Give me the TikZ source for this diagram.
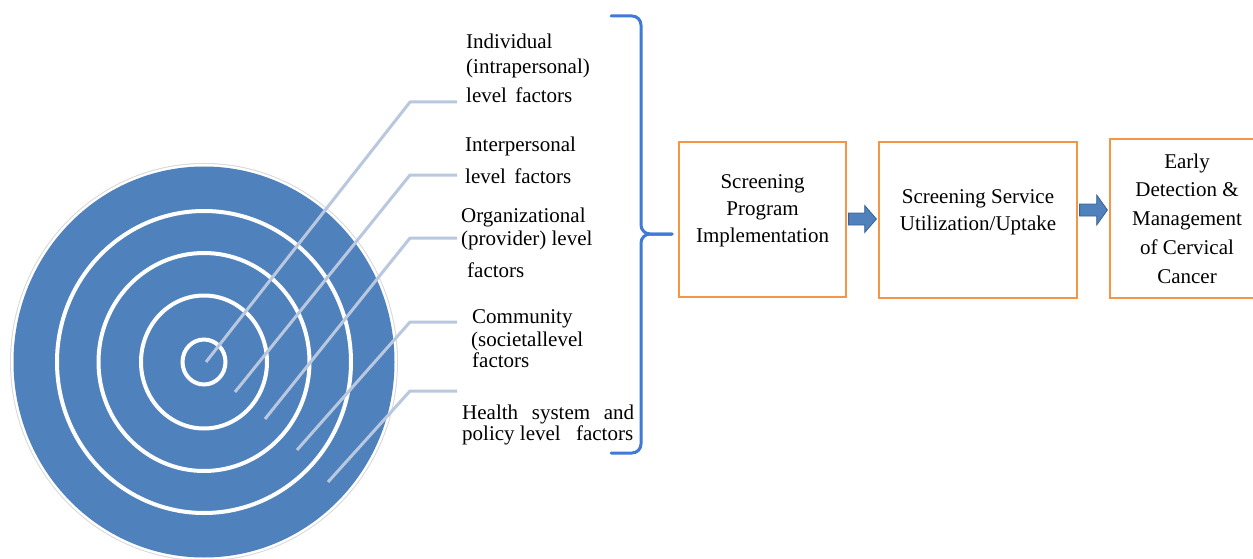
\documentclass[tikz,border=0pt]{standalone}
\usepackage{fontspec}
\setmainfont{Liberation Serif}
\usetikzlibrary{calc}
\definecolor{tblue}{RGB}{79,129,189}
\definecolor{leader}{RGB}{185,200,222}
\definecolor{bracec}{RGB}{62,122,214}
\definecolor{boxor}{RGB}{245,150,70}
\definecolor{arrowline}{RGB}{58,98,150}
\tikzset{
  ring/.style={draw=white, line width=4pt},
  leaderline/.style={draw=leader, line width=3pt, line join=round},
  lbl/.style={anchor=base west, inner sep=0pt, font=\fontsize{21}{25}\selectfont},
  stagebox/.style={draw=boxor, line width=2.6pt, rectangle, inner sep=0pt},
  boxtext/.style={anchor=base, inner sep=0pt, font=\fontsize{21}{27.5}\selectfont},
  blockarrow/.style={fill=tblue, draw=arrowline, line width=0.8pt, line join=miter},
  bracepath/.style={draw=bracec, line width=3pt, line cap=round, rounded corners=9pt},
}
\begin{document}
\begin{tikzpicture}[x=1pt,y=-1pt]
\useasboundingbox (0,0) rectangle (1253,559);
\clip (0,0) rectangle (1253,559);
\fill[white] (0,0) rectangle (1253,559);

% target
\fill[gray!30] (204,362) ellipse [x radius=194, y radius=199];
\fill[white] (204,362) ellipse [x radius=193, y radius=198];
\fill[tblue] (204,362) ellipse [x radius=190.5, y radius=195.5];
\draw[ring] (204,362) ellipse [x radius=147, y radius=151];
\draw[ring] (204,362) ellipse [x radius=105.5, y radius=109];
\draw[ring] (204,362) ellipse [x radius=63, y radius=66.5];
\draw[ring] (204,362) ellipse [x radius=21.5, y radius=22.5];

% leader lines
\coordinate (s1) at (206,362); \coordinate (c1) at (410,102); \coordinate (e1) at (457,102);
\coordinate (s2) at (235,392); \coordinate (c2) at (410,175); \coordinate (e2) at (457,175);
\coordinate (s3) at (265,419); \coordinate (c3) at (410,238); \coordinate (e3) at (457,238);
\coordinate (s4) at (297,450); \coordinate (c4) at (410,322); \coordinate (e4) at (457,322);
\coordinate (s5) at (328,482); \coordinate (c5) at (410,391); \coordinate (e5) at (457,391);
\foreach \i in {1,...,5} {\draw[leaderline] (s\i) -- (c\i) -- (e\i);}

% labels
\node[lbl] (l1) at (466,49) {\begin{tabular}[t]{@{}l@{}}Individual\\(intrapersonal)\\[4pt]level\hspace{3pt} factors\end{tabular}};
\node[lbl] (l2) at (465,152) {\begin{tabular}[t]{@{}l@{}}Interpersonal\\[7pt]level\hspace{3pt} factors\end{tabular}};
\node[lbl] (l3) at (461,222) {\begin{tabular}[t]{@{}l@{}}Organizational\\[-2pt](provider) level\\[7pt]\hspace*{6pt}factors\end{tabular}};
\node[lbl] (l4) at (472,323) {\begin{tabular}[t]{@{}l@{}}Community\\[-2pt]\hspace*{-1pt}(societallevel\\[-4pt]factors\end{tabular}};
\node[lbl] (l5) at (462,419) {\begin{tabular}[t]{@{}l@{}}\makebox[172pt][l]{Health\hfill system\hfill and}\\[-4pt]\makebox[171pt][l]{policy level\hfill factors}\end{tabular}};

% brace
\draw[bracepath] (611,16) -- (641,16) -- (641,234) -- (672,234);
\draw[bracepath] (672,234) -- (641,234) -- (641,453) -- (611,453);

% stage boxes
\node[stagebox, minimum width=167pt, minimum height=155pt] (b1) at (762.5,219.5) {};
\node[stagebox, minimum width=198pt, minimum height=156pt] (b2) at (978,220) {};
\node[stagebox, minimum width=154pt, minimum height=159pt] (b3) at (1187,218.5) {};

\node[boxtext] (t1) at (762.5,188) {\begin{tabular}[t]{@{}c@{}}Screening\\Program\\Implementation\end{tabular}};
\node[boxtext] (t2) at (978,203) {\fontsize{21}{27}\selectfont\begin{tabular}[t]{@{}c@{}}Screening Service\\Utilization/Uptake\end{tabular}};
\node[boxtext] (t3) at (1187,168) {\fontsize{21}{28.75}\selectfont\begin{tabular}[t]{@{}c@{}}Early\\Detection \&\\Management\\of Cervical\\Cancer\end{tabular}};

% block arrows
\coordinate (a1s) at ($(b1.east)+(1.3,-0.5)$);
\coordinate (a1t) at (b2.west |- a1s);
\draw[blockarrow] ($(a1s)+(0,-6)$) -- ($(a1t)+(-13,-6)$) -- ($(a1t)+(-13,-13.5)$) -- ($(a1t)+(-1.3,0)$)
  -- ($(a1t)+(-13,13.5)$) -- ($(a1t)+(-13,6)$) -- ($(a1s)+(0,6)$) -- cycle;
\coordinate (a2s) at ($(b2.east)+(1.3,-10)$);
\coordinate (a2t) at (b3.west |- a2s);
\draw[blockarrow] ($(a2s)+(0,-6)$) -- ($(a2t)+(-12,-6)$) -- ($(a2t)+(-12,-15)$) -- ($(a2t)+(-1.3,0)$)
  -- ($(a2t)+(-12,15)$) -- ($(a2t)+(-12,6)$) -- ($(a2s)+(0,6)$) -- cycle;
\end{tikzpicture}
\end{document}
